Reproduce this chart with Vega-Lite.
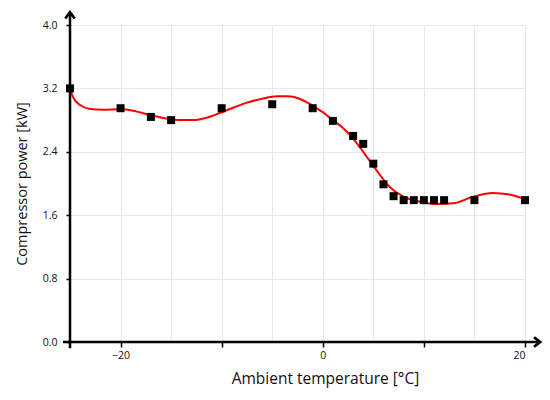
{
  "$schema": "https://vega.github.io/schema/vega-lite/v6.json",
  "width": 455,
  "height": 317,
  "autosize": "none",
  "padding": {"left": 70, "top": 25, "right": 25, "bottom": 58},
  "background": "white",
  "datasets": {
    "measured": [
      {"temp": -25, "power": 3.2},
      {"temp": -20, "power": 2.95},
      {"temp": -17, "power": 2.84},
      {"temp": -15, "power": 2.8},
      {"temp": -10, "power": 2.95},
      {"temp": -5, "power": 3.0},
      {"temp": -1, "power": 2.95},
      {"temp": 1, "power": 2.79},
      {"temp": 3, "power": 2.6},
      {"temp": 4, "power": 2.5},
      {"temp": 5, "power": 2.25},
      {"temp": 6, "power": 1.99},
      {"temp": 7, "power": 1.84},
      {"temp": 8, "power": 1.79},
      {"temp": 9, "power": 1.79},
      {"temp": 10, "power": 1.79},
      {"temp": 11, "power": 1.79},
      {"temp": 12, "power": 1.79},
      {"temp": 15, "power": 1.79},
      {"temp": 20, "power": 1.79}
    ],
    "fit": [
      {"temp": -25, "power": 3.2},
      {"temp": -24.7, "power": 3.09},
      {"temp": -24.0, "power": 2.99},
      {"temp": -23.0, "power": 2.94},
      {"temp": -21.7, "power": 2.93},
      {"temp": -20, "power": 2.94},
      {"temp": -18.5, "power": 2.91},
      {"temp": -17, "power": 2.86},
      {"temp": -15.5, "power": 2.82},
      {"temp": -14, "power": 2.8},
      {"temp": -12.8, "power": 2.8},
      {"temp": -11.5, "power": 2.83},
      {"temp": -10.2, "power": 2.89},
      {"temp": -9, "power": 2.95},
      {"temp": -7.5, "power": 3.02},
      {"temp": -6, "power": 3.07},
      {"temp": -4.5, "power": 3.1},
      {"temp": -3.5, "power": 3.1},
      {"temp": -2.3, "power": 3.07},
      {"temp": -1.5, "power": 3.02},
      {"temp": -0.6, "power": 2.95},
      {"temp": 0, "power": 2.9},
      {"temp": 1, "power": 2.8},
      {"temp": 2, "power": 2.7},
      {"temp": 2.7, "power": 2.61},
      {"temp": 4, "power": 2.4},
      {"temp": 5.3, "power": 2.17},
      {"temp": 6.6, "power": 1.96},
      {"temp": 7.9, "power": 1.84},
      {"temp": 9.6, "power": 1.77},
      {"temp": 11.3, "power": 1.74},
      {"temp": 12.9, "power": 1.75},
      {"temp": 14.8, "power": 1.83},
      {"temp": 16.8, "power": 1.88},
      {"temp": 18.5, "power": 1.86},
      {"temp": 20, "power": 1.8}
    ],
    "one": [{}]
  },
  "layer": [
    {
      "data": {"name": "fit"},
      "mark": {"type": "line", "color": "#ff0000", "strokeWidth": 2, "interpolate": "monotone"},
      "encoding": {
        "x": {
          "field": "temp",
          "type": "quantitative",
          "title": "Ambient temperature [°C]",
          "scale": {"domain": [-25, 20], "nice": false, "zero": false},
          "axis": {
            "values": [-25, -20, -15, -10, -5, 0, 5, 10, 15, 20],
            "labelExpr": "datum.value % 20 === 0 ? (datum.value < 0 ? '\u2212' + abs(datum.value) : datum.label) : ''",
            "domain": false,
            "grid": true,
            "gridColor": "#e8e8e8",
            "tickColor": "black",
            "tickWidth": 1.5,
            "tickSize": 5,
            "tickOpacity": {"condition": {"test": "datum.value % 10 === 0", "value": 1}, "value": 0},
            "labelFont": "Open Sans",
            "labelFontSize": 10.5,
            "labelColor": "#111",
            "labelPadding": 3,
            "titleFont": "Open Sans",
            "titleFontSize": 15.5,
            "titleFontWeight": "normal",
            "titleColor": "#111",
            "titlePadding": 11,
            "titleX": 255
          }
        },
        "y": {
          "field": "power",
          "type": "quantitative",
          "title": "Compressor power [kW]",
          "scale": {"domain": [0, 4], "nice": false},
          "axis": {
            "values": [0, 0.4, 0.8, 1.2, 1.6, 2.0, 2.4, 2.8, 3.2, 3.6, 4.0],
            "labelExpr": "round(datum.value * 10) % 8 === 0 ? format(datum.value, '.1f') : ''",
            "domain": false,
            "grid": true,
            "gridColor": "#e8e8e8",
            "tickColor": "black",
            "tickWidth": 1.5,
            "tickSize": 4,
            "labelFont": "Open Sans",
            "labelFontSize": 10.5,
            "labelColor": "#111",
            "labelPadding": 9,
            "titleFont": "Open Sans",
            "titleFontSize": 14.5,
            "titleFontWeight": "normal",
            "titleColor": "#111",
            "titlePadding": 13
          }
        }
      }
    },
    {
      "data": {"name": "measured"},
      "mark": {"type": "point", "shape": "square", "filled": true, "color": "black", "size": 64, "opacity": 1},
      "encoding": {
        "x": {"field": "temp", "type": "quantitative"},
        "y": {"field": "power", "type": "quantitative"}
      }
    },
    {
      "data": {"name": "one"},
      "mark": {"type": "rule", "color": "black", "strokeWidth": 2.5},
      "encoding": {
        "x": {"datum": -25.7, "type": "quantitative"},
        "x2": {"datum": 21.3},
        "y": {"datum": 0, "type": "quantitative"}
      }
    },
    {
      "data": {"name": "one"},
      "mark": {"type": "rule", "color": "black", "strokeWidth": 2.5},
      "encoding": {
        "x": {"datum": -25, "type": "quantitative"},
        "y": {"datum": -0.08, "type": "quantitative"},
        "y2": {"datum": 4.13}
      }
    },
    {
      "data": {"name": "one"},
      "mark": {"type": "point", "shape": "M-1.3,-1L0,0L-1.3,1", "filled": false, "stroke": "black", "strokeWidth": 2.8, "size": 90, "opacity": 1},
      "encoding": {
        "x": {"datum": 21.5, "type": "quantitative"},
        "y": {"datum": 0, "type": "quantitative"}
      }
    },
    {
      "data": {"name": "one"},
      "mark": {"type": "point", "shape": "M-1,1.3L0,0L1,1.3", "filled": false, "stroke": "black", "strokeWidth": 2.8, "size": 90, "opacity": 1},
      "encoding": {
        "x": {"datum": -25, "type": "quantitative"},
        "y": {"datum": 4.16, "type": "quantitative"}
      }
    }
  ],
  "config": {
    "view": {"stroke": null}
  }
}
